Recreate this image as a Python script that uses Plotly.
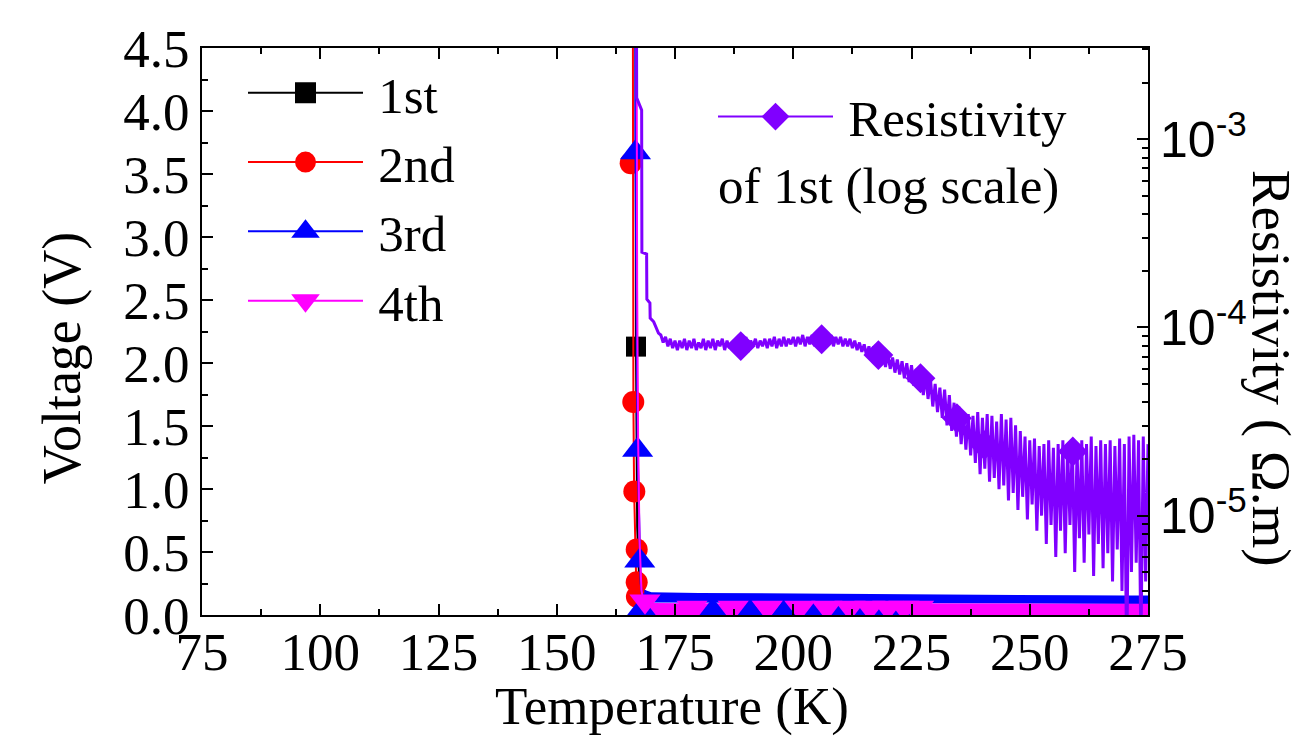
import plotly.graph_objects as go

# ---------------- data ----------------
# 1st run (black)
t1 = [166.6, 166.75, 167.0, 167.4, 168.0, 169.0, 170.0, 180.0, 190.0, 200.0, 210.0,
      220.0, 230.0, 240.0, 250.0, 260.0, 270.0, 275.0]
v1 = [6.0, 2.13, 0.70, 0.30, 0.18, 0.15, 0.14, 0.14, 0.14, 0.14, 0.13,
      0.13, 0.13, 0.13, 0.13, 0.13, 0.13, 0.13]
t1_mk = [166.75]
v1_mk = [2.13]

# 2nd run (red)
t2 = [166.05, 166.1, 166.2, 166.35, 166.6, 166.8, 167.0, 167.5, 168.5, 170.0, 180.0,
      190.0, 200.0, 210.0, 220.0, 230.0, 240.0, 250.0, 260.0, 270.0, 275.0]
v2 = [6.0, 3.5, 1.7, 1.0, 0.52, 0.27, 0.15, 0.11, 0.09, 0.08, 0.08,
      0.08, 0.07, 0.07, 0.07, 0.07, 0.07, 0.07, 0.07, 0.07, 0.07]
t2_mk = [165.63, 166.18, 166.4, 166.9, 166.9, 166.95]
v2_mk = [3.585, 1.69, 0.98, 0.52, 0.26, 0.145]

# 3rd run (blue)
t3 = [166.6, 166.65, 166.9, 167.1, 167.4, 167.6, 167.75, 168.0, 169.0, 170.0, 180.0,
      190.0, 200.0, 210.0, 220.0, 230.0, 240.0, 250.0, 260.0, 270.0, 275.0]
v3 = [6.0, 3.67, 2.2, 1.31, 0.8, 0.45, 0.25, 0.17, 0.15, 0.14, 0.14,
      0.14, 0.135, 0.13, 0.13, 0.125, 0.125, 0.12, 0.12, 0.12, 0.12]
t3_mk = [166.65, 167.1, 167.55, 167.9, 183.0, 190.8, 198.2, 204.2, 209.5, 214.1, 218.3, 221.9]
v3_mk = [3.67, 1.31, 0.43, 0.04, 0.03, 0.03, 0.03, 0.03, 0.03, 0.03, 0.03, 0.03]

# 4th run (magenta)
t4 = [166.8, 166.85, 167.0, 167.2, 167.5, 167.9, 168.4, 169.0, 170.0, 180.0,
      190.0, 200.0, 210.0, 220.0, 230.0, 240.0, 250.0, 260.0, 270.0, 275.0]
v4 = [6.0, 4.2, 2.6, 1.4, 0.6, 0.2, 0.09, 0.06, 0.05, 0.05,
      0.05, 0.05, 0.05, 0.05, 0.05, 0.05, 0.05, 0.05, 0.05, 0.05]
t4_mk = [168.66, 178.6, 187.3, 194.5, 201.4, 207.1, 212.0, 216.2, 220.0, 223.4, 226.5]
v4_mk = [0.11, 0.06, 0.06, 0.06, 0.06, 0.06, 0.06, 0.06, 0.06, 0.06, 0.06]

# noise envelopes of the 3rd and 4th runs above 168 K (min / max voltage)
band_t = [168.5, 170.0, 180.0, 190.0, 200.0, 210.0, 220.0, 230.0, 240.0, 250.0, 260.0, 270.0, 275.0]
blue_hi = [0.20, 0.18, 0.175, 0.172, 0.17, 0.168, 0.165, 0.16, 0.158, 0.157, 0.156, 0.155, 0.155]
blue_lo = [0.10, 0.10, 0.10, 0.10, 0.098, 0.096, 0.094, 0.092, 0.09, 0.09, 0.088, 0.088, 0.088]
mag_hi = [0.10, 0.095, 0.093, 0.092, 0.092, 0.092, 0.09, 0.09, 0.09, 0.09, 0.09, 0.09, 0.09]
mag_lo = [0.0, 0.0, 0.0, 0.0, 0.0, 0.0, 0.0, 0.0, 0.0, 0.0, 0.0, 0.0, 0.0]

# resistivity of 1st run, read on the log axis as log10(rho / ohm.m)
t_rho = [166.85, 166.9, 167.95, 168.0, 169.0, 169.05, 169.7, 169.75, 170.5, 171.0, 171.5,
         172.0, 172.5, 173.0, 173.5, 174.0, 174.5, 175.0, 175.5, 176.0, 176.5,
         177.0, 177.5, 178.0, 178.5, 179.0, 179.5, 180.0, 180.5, 181.0, 181.5,
         182.0, 182.5, 183.0, 183.5, 184.0, 184.5, 185.0, 185.5, 186.0, 186.5,
         187.0, 187.5, 188.0, 188.5, 189.0, 189.5, 190.0, 190.5, 191.0, 191.5,
         192.0, 192.5, 193.0, 193.5, 194.0, 194.5, 195.0, 195.5, 196.0, 196.5,
         197.0, 197.5, 198.0, 198.5, 199.0, 199.5, 200.0, 200.5, 201.0, 201.5,
         202.0, 202.5, 203.0, 203.5, 204.0, 204.5, 205.0, 205.5, 206.0, 206.5,
         207.0, 207.5, 208.0, 208.5, 209.0, 209.5, 210.0, 210.5, 211.0, 211.5,
         212.0, 212.5, 213.0, 213.5, 214.0, 214.5, 215.0, 215.5, 216.0, 216.5,
         217.0, 217.5, 218.0, 218.5, 219.0, 219.5, 220.0, 220.5, 221.0, 221.5,
         222.0, 222.5, 223.0, 223.5, 224.0, 224.5, 225.0, 225.5, 226.0, 226.5,
         227.0, 227.5, 228.0, 228.5, 229.0, 229.5, 230.0, 230.5, 231.0, 231.5,
         232.0, 232.5, 233.0, 233.5, 234.0, 234.5, 235.0, 235.5, 236.0, 236.5,
         237.0, 237.5, 238.0, 238.5, 239.0, 239.5, 240.0, 240.5, 241.0, 241.5,
         242.0, 242.5, 243.0, 243.5, 244.0, 244.5, 245.0, 245.5, 246.0, 246.5,
         247.0, 247.5, 248.0, 248.5, 249.0, 249.5, 250.0, 250.5, 251.0, 251.5,
         252.0, 252.5, 253.0, 253.5, 254.0, 254.5, 255.0, 255.5, 256.0, 256.5,
         257.0, 257.5, 258.0, 258.5, 259.0, 259.5, 260.0, 260.5, 261.0, 261.5,
         262.0, 262.5, 263.0, 263.5, 264.0, 264.5, 265.0, 265.5, 266.0, 266.5,
         267.0, 267.5, 268.0, 268.5, 269.0, 269.5, 270.0, 270.5, 271.0, 271.5,
         272.0, 272.5, 273.0, 273.5, 274.0, 274.5, 275.0]
rho_log10 = [-2.30, -2.78, -2.845, -3.60, -3.61, -3.85, -3.87, -3.95, -3.97, -4.00, -4.03,
             -4.04, -4.08, -4.05, -4.10, -4.06, -4.11, -4.07, -4.12, -4.07, -4.11,
             -4.06, -4.12, -4.07, -4.11, -4.06, -4.12, -4.08, -4.11, -4.06, -4.12,
             -4.07, -4.11, -4.06, -4.12, -4.07, -4.10, -4.06, -4.12, -4.07, -4.11,
             -4.08, -4.11, -4.07, -4.10, -4.07, -4.12, -4.05, -4.13, -4.07, -4.10,
             -4.06, -4.11, -4.07, -4.10, -4.06, -4.11, -4.06, -4.10, -4.05, -4.11,
             -4.06, -4.10, -4.05, -4.10, -4.06, -4.09, -4.05, -4.10, -4.05, -4.09,
             -4.04, -4.10, -4.05, -4.09, -4.04, -4.10, -4.04, -4.09, -4.05, -4.10,
             -4.05, -4.09, -4.04, -4.10, -4.05, -4.09, -4.05, -4.10, -4.06, -4.10,
             -4.06, -4.11, -4.07, -4.12, -4.08, -4.13, -4.09, -4.15, -4.10, -4.16,
             -4.10, -4.18, -4.12, -4.19, -4.13, -4.21, -4.14, -4.22, -4.16, -4.24,
             -4.17, -4.25, -4.18, -4.27, -4.19, -4.29, -4.20, -4.31, -4.22, -4.33,
             -4.22, -4.36, -4.25, -4.38, -4.27, -4.42, -4.30, -4.45, -4.32, -4.48,
             -4.33, -4.52, -4.36, -4.55, -4.40, -4.58, -4.42, -4.62, -4.45, -4.65,
             -4.46, -4.68, -4.47, -4.72, -4.45, -4.78, -4.48, -4.75, -4.46, -4.82,
             -4.47, -4.80, -4.50, -4.86, -4.46, -4.84, -4.49, -4.92, -4.48, -4.88,
             -4.52, -4.97, -4.55, -4.90, -4.58, -5.02, -4.60, -4.94, -4.59, -5.08,
             -4.63, -5.00, -4.62, -5.15, -4.60, -5.05, -4.64, -5.22, -4.62, -5.08,
             -4.60, -5.20, -4.63, -5.05, -4.61, -5.30, -4.65, -5.12, -4.60, -5.25,
             -4.62, -5.10, -4.58, -5.32, -4.63, -5.15, -4.60, -5.28, -4.62, -5.20,
             -4.60, -5.35, -4.63, -5.18, -4.59, -5.40, -4.62, -5.80, -4.58, -5.30,
             -4.57, -5.25, -4.60, -5.70, -4.58, -5.35, -4.62]
t_rho_mk = [188.9, 206.0, 218.0, 226.9, 234.6, 240.4, 259.1]
rho_mk = [7.96e-5, 8.65e-5, 7.13e-5, 5.37e-5, 3.29e-5, 2.37e-5, 2.19e-5]

# axis tick labels
x_ticks = [75, 100, 125, 150, 175, 200, 225, 250, 275]
rho_tickvals = [1e-5, 1e-4, 1e-3]
rho_ticktext = ["10<sup>-5</sup>", "10<sup>-4</sup>", "10<sup>-3</sup>"]

# ---------------- styling ----------------
BLACK, RED, BLUE, MAG, PUR = "#000000", "#FF0000", "#0000FF", "#FF00FF", "#8000FF"
SERIF = "Liberation Serif"
SANS = "Liberation Sans"
LW = 2

rho = [10 ** v for v in rho_log10]

fig = go.Figure()


def line(x, y, color, width=LW, yaxis="y"):
    return go.Scatter(x=x, y=y, mode="lines", line=dict(color=color, width=width),
                      showlegend=False, hoverinfo="skip", yaxis=yaxis)


def marks(x, y, color, symbol, size, yaxis="y"):
    return go.Scatter(x=x, y=y, mode="markers",
                      marker=dict(color=color, symbol=symbol, size=size, line=dict(width=0)),
                      showlegend=False, hoverinfo="skip", yaxis=yaxis)


# 1st
fig.add_trace(line(t1, v1, BLACK))
fig.add_trace(marks(t1_mk, v1_mk, BLACK, "square", 20))
# 2nd
fig.add_trace(line(t2, v2, RED))
fig.add_trace(marks(t2_mk, v2_mk, RED, "circle", 22))
# 3rd: band + line + upper markers
fig.add_trace(go.Scatter(x=band_t, y=blue_lo, mode="lines", line=dict(width=0, color=BLUE),
                         showlegend=False, hoverinfo="skip"))
fig.add_trace(go.Scatter(x=band_t, y=blue_hi, mode="lines", line=dict(width=0, color=BLUE),
                         fill="tonexty", fillcolor=BLUE, showlegend=False, hoverinfo="skip"))
fig.add_trace(line(t3, v3, BLUE))
up3 = [i for i, v in enumerate(v3_mk) if v > 0.2]
lo3 = [i for i, v in enumerate(v3_mk) if v <= 0.2]
fig.add_trace(marks([t3_mk[i] for i in up3], [v3_mk[i] for i in up3], BLUE, "triangle-up", 27))
# 4th: band
fig.add_trace(go.Scatter(x=band_t, y=mag_lo, mode="lines", line=dict(width=0, color=MAG),
                         showlegend=False, hoverinfo="skip"))
fig.add_trace(go.Scatter(x=band_t, y=mag_hi, mode="lines", line=dict(width=0, color=MAG),
                         fill="tonexty", fillcolor=MAG, showlegend=False, hoverinfo="skip"))
fig.add_trace(line(t4, v4, MAG))
fig.add_trace(marks([t3_mk[i] for i in lo3], [v3_mk[i] for i in lo3], BLUE, "triangle-up", 27))
fig.add_trace(marks(t4_mk, v4_mk, MAG, "triangle-down", 27))

# resistivity on log axis
fig.add_trace(line(t_rho, rho, PUR, width=3, yaxis="y2"))
fig.add_trace(marks(t_rho_mk, rho_mk, PUR, "diamond", 23, yaxis="y2"))

# legend-only entries
for name, color, sym, rank in [("1st", BLACK, "square", 1), ("2nd", RED, "circle", 2),
                               ("3rd", BLUE, "triangle-up", 3), ("4th", MAG, "triangle-down", 4)]:
    fig.add_trace(go.Scatter(x=[None], y=[None], mode="lines+markers", name="\u2009" + name,
                             line=dict(color=color, width=LW),
                             marker=dict(color=color, symbol=sym, size=16,
                                         line=dict(color=color, width=5)),
                             legend="legend", legendrank=rank, hoverinfo="skip"))
fig.add_trace(go.Scatter(x=[None], y=[None], mode="lines+markers", name="\u2009Resistivity",
                         line=dict(color=PUR, width=LW),
                         marker=dict(color=PUR, symbol="diamond", size=16,
                                     line=dict(color=PUR, width=5)),
                         legend="legend2", yaxis="y2", hoverinfo="skip"))

axis_common = dict(showline=True, linecolor=BLACK, linewidth=2, ticks="inside",
                   tickcolor=BLACK, tickwidth=2, ticklen=11, showgrid=False, zeroline=False)

minor_rho = [m * 10.0 ** e for e in (-6, -5, -4, -3) for m in range(2, 10)]

TICK = 53
fig.update_layout(
    width=1303, height=739,
    margin=dict(l=202, r=155, t=48, b=124, pad=0),
    paper_bgcolor="white", plot_bgcolor="white",
    font=dict(family=SERIF, color=BLACK, size=TICK),
    xaxis=dict(range=[75, 275], tickmode="array", tickvals=x_ticks, mirror="ticks",
               tickfont=dict(family=SERIF, size=TICK, color=BLACK), ticklabelstandoff=-11,
               minor=dict(tickmode="linear", tick0=75, dtick=12.5, ticks="inside",
                          ticklen=6, tickwidth=2, tickcolor=BLACK, showgrid=False),
               **axis_common),
    yaxis=dict(range=[0, 4.5], dtick=0.5, tick0=0, tickformat=".1f",
               tickfont=dict(family=SERIF, size=TICK, color=BLACK), ticklabelstandoff=0,
               minor=dict(tick0=0, dtick=0.25, ticks="inside", ticklen=6, tickwidth=2,
                          tickcolor=BLACK, showgrid=False),
               **axis_common),
    yaxis2=dict(type="log", range=[-5.528, -2.515], overlaying="y", side="right",
                tickmode="array", tickvals=rho_tickvals, ticktext=rho_ticktext,
                tickfont=dict(family=SANS, size=50, color=BLACK), ticklabelstandoff=0,
                minor=dict(tickmode="array", tickvals=minor_rho, ticks="inside", ticklen=6,
                           tickwidth=2, tickcolor=BLACK, showgrid=False),
                **axis_common),
    legend=dict(x=(243 - 202) / 946, y=0.991, xanchor="left", yanchor="top",
                bgcolor="rgba(0,0,0,0)", borderwidth=0, itemwidth=115,
                font=dict(family=SERIF, size=51, color=BLACK), tracegroupgap=0,
                traceorder="normal"),
    legend2=dict(x=(713 - 202) / 946, y=0.949, xanchor="left", yanchor="top",
                 bgcolor="rgba(0,0,0,0)", borderwidth=0, itemwidth=115,
                 font=dict(family=SERIF, size=51, color=BLACK)),
    annotations=[
        dict(text="Voltage (V)", xref="paper", yref="paper", x=(62 - 202) / 946, y=0.453,
             textangle=-90, showarrow=False, xanchor="center", yanchor="middle",
             font=dict(family=SERIF, size=54, color=BLACK)),
        dict(text="Resistivity ( \u03a9.m)", xref="paper", yref="paper",
             x=(1271 - 202) / 946, y=0.436, textangle=90, showarrow=False,
             xanchor="center", yanchor="middle", font=dict(family=SERIF, size=55, color=BLACK)),
        dict(text="Temperature (K)", xref="paper", yref="paper", x=0.497, y=-0.161,
             showarrow=False, xanchor="center", yanchor="middle",
             font=dict(family=SERIF, size=53, color=BLACK)),
        dict(text="of 1st (log scale)", xref="paper", yref="paper", x=(716 - 202) / 946,
             y=0.7566, showarrow=False, xanchor="left", yanchor="middle",
             font=dict(family=SERIF, size=51, color=BLACK)),
    ],
    showlegend=True,
)

fig.write_html("out.html")
